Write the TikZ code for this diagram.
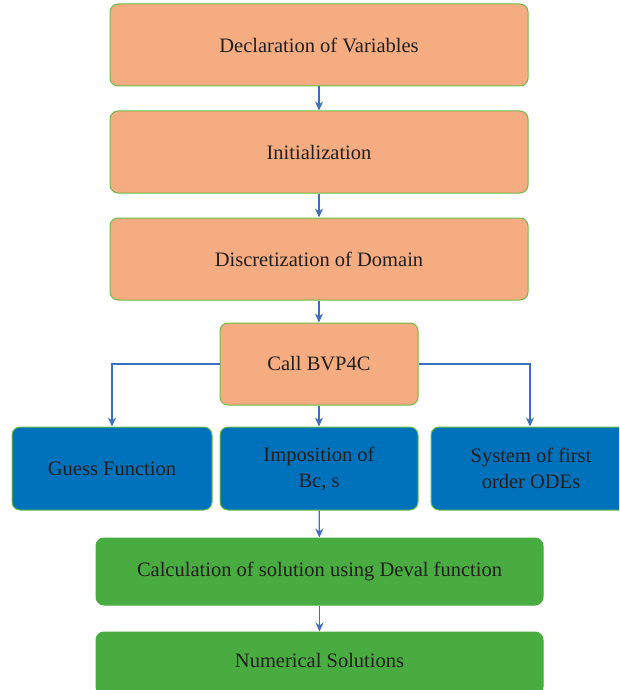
\documentclass[tikz,border=0pt]{standalone}
\usepackage{fontspec}
\setmainfont{Liberation Serif}
\usetikzlibrary{arrows.meta}
\definecolor{orfill}{HTML}{F4AC80}
\definecolor{blfill}{HTML}{0071BB}
\definecolor{grfill}{HTML}{48AC40}
\definecolor{edgegr}{HTML}{6CBE45}
\definecolor{arrowbl}{HTML}{3B6FBF}
\definecolor{txt}{HTML}{231F20}
\tikzset{
  box/.style={draw=edgegr, line width=1pt, rounded corners=8pt, text=txt, align=center, font=\fontsize{20.5}{26}\selectfont, inner sep=0pt},
  orbox/.style={box, fill=orfill},
  blbox/.style={box, fill=blfill},
  grbox/.style={box, fill=grfill, draw=grfill},
  conn/.style={draw=arrowbl, line width=1.2pt, -{Stealth[length=9pt,width=8pt]}}
}
\begin{document}
\begin{tikzpicture}[x=1pt,y=-1pt]
\useasboundingbox (0,0) rectangle (619,690);
\clip (0,0) rectangle (619,690);
\node[orbox, minimum width=418pt, minimum height=82pt] (decl) at (319,45) {Declaration of Variables};
\node[orbox, minimum width=418pt, minimum height=82pt] (init) at (319,152) {Initialization};
\node[orbox, minimum width=418pt, minimum height=82pt] (disc) at (319,259) {Discretization of Domain};
\node[orbox, minimum width=198pt, minimum height=82pt] (call) at (319,364) {Call BVP4C};
\node[blbox, minimum width=200pt, minimum height=83pt] (guess) at (112,468.5) {Guess Function};
\node[blbox, minimum width=198pt, minimum height=83pt] (impo) at (319,468.5) {Imposition of\\Bc, s};
\node[blbox, minimum width=200pt, minimum height=83pt] (sys) at (531,468.5) {System of first\\order ODEs};
\node[grbox, minimum width=447pt, minimum height=67pt] (calc) at (319.5,571.5) {Calculation of solution using Deval function};
\node[grbox, minimum width=447pt, minimum height=63pt] (num) at (319.5,663.5) {};
\node[text=txt, font=\fontsize{20.5}{26}\selectfont] (numtxt) at (319.5,660) {Numerical Solutions};
\draw[conn] (decl) -- (init);
\draw[conn] (init) -- (disc);
\draw[conn] (disc) -- (call);
\draw[conn] (call.west) -| (guess.north);
\draw[conn] (call) -- (impo);
\draw[conn] (call.east) -| (sys.north -| 530,0);
\draw[conn] (impo) -- (calc);
\draw[conn] (calc) -- (num);
\end{tikzpicture}
\end{document}
